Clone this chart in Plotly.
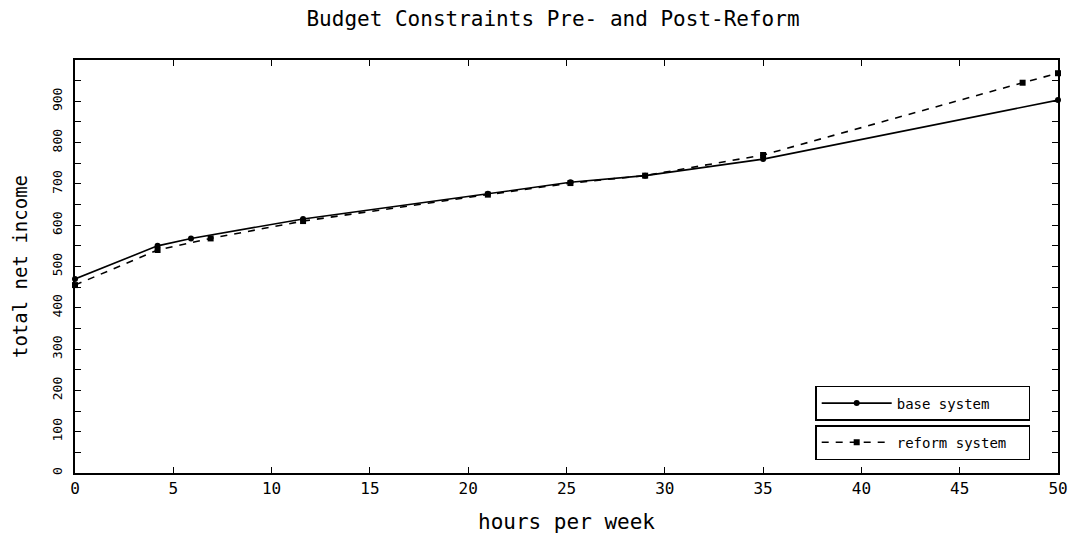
import plotly.graph_objects as go

# Weekly hours worked and total net income under each system
base_hours = [0, 4.2, 5.9, 11.6, 21.0, 25.2, 29.0, 35.0, 50.0]
base_income = [470, 550, 568, 615, 676, 704, 720, 760, 903]

reform_hours = [0, 4.2, 6.9, 11.6, 21.0, 25.2, 29.0, 35.0, 48.2, 50.0]
reform_income = [455, 540, 568, 610, 674, 702, 720, 770, 945, 968]

x_ticks = [0, 5, 10, 15, 20, 25, 30, 35, 40, 45, 50]
y_ticks = [0, 100, 200, 300, 400, 500, 600, 700, 800, 900]

FONT = "DejaVu Sans Mono"

fig = go.Figure()

fig.add_trace(go.Scatter(
    x=base_hours, y=base_income, name="base system",
    mode="lines+markers", cliponaxis=False,
    line=dict(color="black", width=1.6),
    marker=dict(symbol="circle", size=6, color="black"),
    legend="legend",
))
fig.add_trace(go.Scatter(
    x=reform_hours, y=reform_income, name="reform system",
    mode="lines+markers", cliponaxis=False,
    line=dict(color="black", width=1.6, dash="7px,7px"),
    marker=dict(symbol="square", size=6, color="black"),
    legend="legend2",
))

legend_common = dict(
    orientation="h",
    xanchor="left", yanchor="top",
    bgcolor="white", bordercolor="black", borderwidth=1.5,
    font=dict(family=FONT, size=14, color="black"),
    entrywidth=127, entrywidthmode="pixels",
    itemwidth=70,
)

fig.update_layout(
    width=1078, height=535,
    paper_bgcolor="white", plot_bgcolor="white",
    margin=dict(l=75, r=20, t=60, b=62, autoexpand=False),
    title=dict(
        text="Budget Constraints Pre- and Post-Reform",
        font=dict(family=FONT, size=21, color="black"),
        x=553 / 1078, xanchor="center", xref="container",
        y=1 - 19 / 535, yanchor="middle", yref="container",
    ),
    showlegend=True,
    legend=dict(x=0.753, y=0.2107, **legend_common),
    legend2=dict(x=0.753, y=0.116, **legend_common),
    xaxis=dict(
        range=[0, 50], tickvals=x_ticks, ticktext=[str(v) for v in x_ticks],
        ticks="inside", ticklen=6, tickwidth=1.2, tickcolor="black",
        showline=True, linecolor="black", linewidth=2, mirror="allticks",
        showgrid=False, zeroline=False, automargin=False,
        tickfont=dict(family=FONT, size=16, color="black"),
        title=dict(text="hours per week",
                   font=dict(family=FONT, size=21, color="black"), standoff=17),
    ),
    yaxis=dict(
        range=[0, 1000], tickvals=y_ticks, ticktext=[str(v) for v in y_ticks],
        ticks="inside", ticklen=6, tickwidth=1.2, tickcolor="black",
        minor=dict(dtick=50, ticks="inside", ticklen=6, tickwidth=1.2, tickcolor="black", showgrid=False),
        showline=True, linecolor="black", linewidth=2, mirror="allticks",
        showgrid=False, zeroline=False, tickangle=-90, automargin=False,
        ticklabelstandoff=6,
        tickfont=dict(family=FONT, size=13, color="black"),
        title=dict(text="total net income",
                   font=dict(family=FONT, size=19, color="black"), standoff=17),
    ),
)

fig.write_html("out.html")
